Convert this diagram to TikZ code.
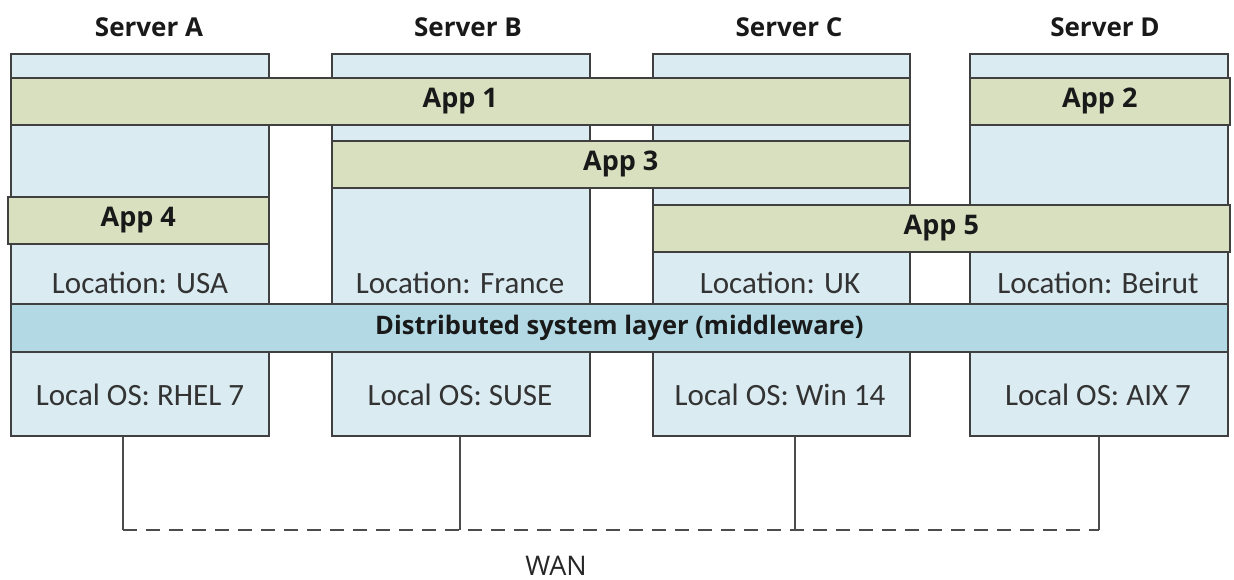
\documentclass[tikz,border=0pt]{standalone}
\usepackage{fontspec}
\setmainfont{Carlito}
\newfontfamily\headfont{Open Sans}
\begin{document}
\begin{tikzpicture}[x=1pt,y=-1pt,
  serverbox/.style={draw=black!75, line width=1.6pt, fill=srvblue, anchor=north west, inner sep=0pt},
  appbar/.style={draw=black!75, line width=1.6pt, fill=appgreen, anchor=north west, inner sep=0pt, minimum height=47pt, font=\headfont\bfseries\fontsize{27}{30}\selectfont, text=black!90},
  layerbar/.style={draw=black!75, line width=1.6pt, fill=midblue, anchor=north west, inner sep=0pt, minimum height=48pt, font=\headfont\bfseries\fontsize{25.5}{30}\selectfont, text=black!90},
  title/.style={font=\headfont\bfseries\fontsize{26}{30}\selectfont, text=black!90},
  info/.style={font=\fontsize{31}{34}\selectfont, text=black!80},
  link/.style={draw=black!70, line width=1.3pt},
  wan/.style={draw=black!70, line width=1.3pt, dash pattern=on 14pt off 9pt}
]
\definecolor{srvblue}{HTML}{DAEBF2}
\definecolor{appgreen}{HTML}{D8E0C0}
\definecolor{midblue}{HTML}{B2D9E4}

\useasboundingbox (0,0) rectangle (1234,580);

% server columns
\node[serverbox, minimum width=258pt, minimum height=382pt] (A) at (10,53) {};
\node[serverbox, minimum width=258pt, minimum height=382pt] (B) at (331,53) {};
\node[serverbox, minimum width=257pt, minimum height=382pt] (C) at (652,53) {};
\node[serverbox, minimum width=258pt, minimum height=382pt] (D) at (969,53) {};

% server titles
\node[title] (tA) at (149,27) {Server A};
\node[title] (tB) at (468,27) {Server B};
\node[title] (tC) at (789,27) {Server C};
\node[title] (tD) at (1105,27) {Server D};

% application bars
\node[appbar, minimum width=899pt] (app1) at (10,77) {App 1};
\node[appbar, minimum width=260pt] (app2) at (969,77) {App 2};
\node[appbar, minimum width=578pt] (app3) at (331,140) {App 3};
\node[appbar, minimum width=261pt] (app4) at (7,196) {App 4};
\node[appbar, minimum width=577pt] (app5) at (652,204) {App 5};

% locations
\node[info] (locA) at (140,283) {Location: USA};
\node[info] (locB) at (460,283) {Location: France};
\node[info] (locC) at (780,283) {Location: UK};
\node[info] (locD) at (1098,283) {Location: Beirut};

% middleware layer
\node[layerbar, minimum width=1217pt] (mw) at (10,303) {Distributed system layer (middleware)};

% local operating systems
\node[info] (osA) at (140,395) {Local OS: RHEL 7};
\node[info] (osB) at (460,395) {Local OS: SUSE};
\node[info] (osC) at (780,395) {Local OS: Win 14};
\node[info] (osD) at (1098,395) {Local OS: AIX 7};

% network
\coordinate (wA) at (123,530);
\coordinate (wB) at (460,530);
\coordinate (wC) at (795,530);
\coordinate (wD) at (1099,530);
\draw[link] (A.south -| wA) -- (wA);
\draw[link] (B.south -| wB) -- (wB);
\draw[link] (C.south -| wC) -- (wC);
\draw[link] (D.south -| wD) -- (wD);
\draw[wan] (wA) -- (wB) -- (wC) -- (wD);
\node[font=\headfont\fontsize{27}{30}\selectfont, text=black!85] (wanlabel) at (556,566) {WAN};
\end{tikzpicture}
\end{document}
